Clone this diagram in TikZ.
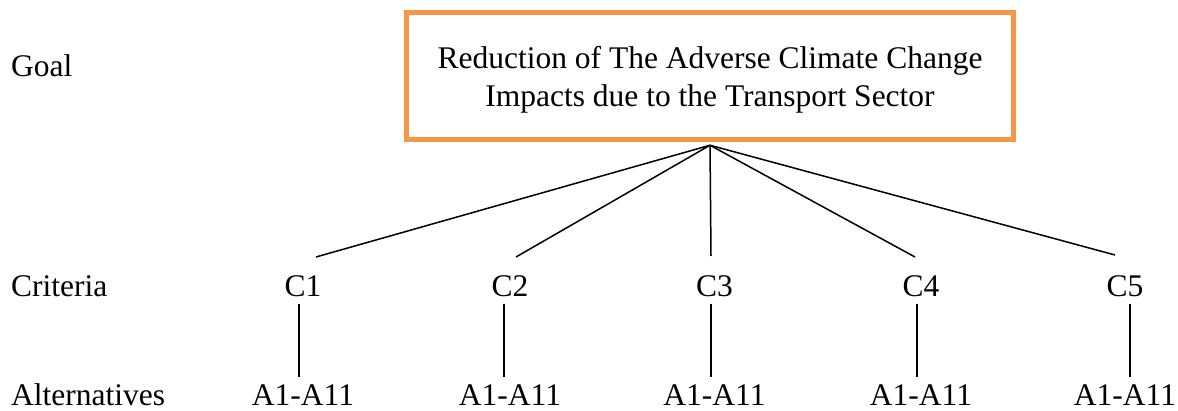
\documentclass[tikz,border=0pt]{standalone}
\usepackage{fontspec}
\setmainfont{Liberation Serif}
\definecolor{boxorange}{HTML}{F79646}
\begin{document}
\begin{tikzpicture}[x=1pt,y=-1pt,
  lbl/.style={anchor=base,inner sep=0pt,font=\fontsize{31.5}{38}\selectfont},
  side/.style={anchor=base west,inner sep=0pt,font=\fontsize{31.5}{38}\selectfont},
  goalbox/.style={draw=boxorange,line width=4.5pt,minimum width=607pt,minimum height=127pt,
    align=center,inner sep=0pt,font=\fontsize{31.5}{38}\selectfont},
  conn/.style={line width=1.5pt,black}]
\useasboundingbox (0,0) rectangle (1178,411);
\node[goalbox] (goal) at (710,76) {\rule{0pt}{28.9pt}Reduction of The Adverse Climate Change\\Impacts due to the Transport Sector};
\node[side] (lgoal) at (11,77) {Goal};
\node[side] (lcrit) at (11,297) {Criteria};
\node[side] (lalt) at (11,406) {Alternatives};
\foreach \i/\x in {1/303,2/510,3/714.5,4/921,5/1125}{
  \node[lbl] (c\i) at (\x,297) {C\i};
  \node[lbl] (a\i) at (\x,406) {A1-A11};
}
\coordinate (apex) at ([yshift=-3.5pt]goal.south);
\coordinate (e1) at (316,257);
\coordinate (e2) at (516,257);
\coordinate (e3) at (711,256);
\coordinate (e4) at (915,257);
\coordinate (e5) at (1115,255);
\foreach \i in {1,...,5}{\draw[conn] (apex) -- (e\i);}
\foreach \i/\d in {1/-4,2/-6,3/-3.5,4/-4,5/5}{
  \coordinate (ct\i) at ([xshift=\d pt,yshift=-6pt]c\i.south);
  \coordinate (ab\i) at ([yshift=8pt]a\i.north);
  \draw[conn] (ct\i) -- (ct\i |- ab\i);
}
\end{tikzpicture}
\end{document}
